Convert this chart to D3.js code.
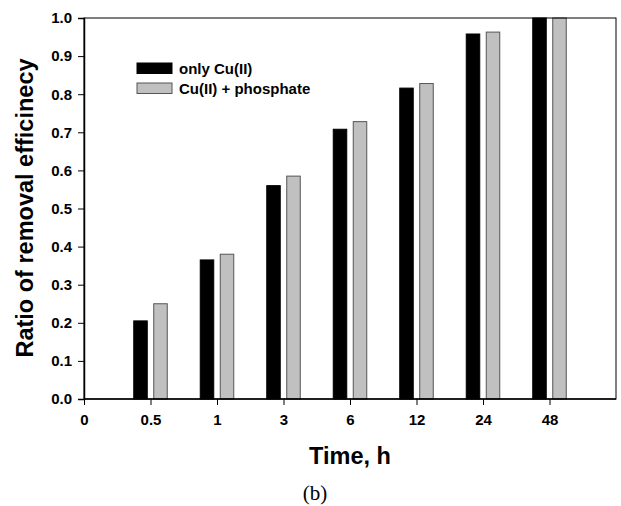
<!DOCTYPE html>
<html>
<head>
<meta charset="utf-8">
<script src="https://cdn.jsdelivr.net/npm/d3@7"></script>
<style>
  html, body { margin: 0; padding: 0; background: #fff; }
  svg { display: block; }
</style>
</head>
<body>
<svg id="chart" width="621" height="506"></svg>
<script>
// data
const times = ['0.5', '1', '3', '6', '12', '24', '48'];
const onlyCu = [0.205, 0.365, 0.560, 0.708, 0.816, 0.958, 1.0];
const cuPhosphate = [0.250, 0.380, 0.585, 0.728, 0.828, 0.963, 1.0];
const seriesNames = ['only Cu(II)', 'Cu(II) + phosphate'];
const xTickLabels = ['0', '0.5', '1', '3', '6', '12', '24', '48'];
const yTicks = [0, 0.1, 0.2, 0.3, 0.4, 0.5, 0.6, 0.7, 0.8, 0.9, 1.0];

const svg = d3.select('#chart');
const L = 84, R = 616, T = 18, B = 399;
const sans = 'Liberation Sans, Arial, sans-serif';
const fills = ['#000', '#c0c0c0'];
const strokes = ['#000', '#555'];

const x = d3.scaleLinear().domain([0, 8]).range([L, R]);
const y = d3.scaleLinear().domain([0, 1]).range([B, T]);
const inner = d3.scaleBand().domain(seriesNames).range([-16.75, 16.75]).paddingInner(0.325);

// bars (time i sits at tick i+1)
const series = [onlyCu, cuPhosphate];
series.forEach((vals, s) => {
  svg.append('g').selectAll('rect').data(vals).join('rect')
    .attr('x', (d, i) => x(i + 1) + inner(seriesNames[s]))
    .attr('y', d => y(d))
    .attr('width', inner.bandwidth())
    .attr('height', d => y(0) - y(d))
    .attr('fill', fills[s]).attr('stroke', strokes[s]).attr('stroke-width', 1);
});

// frame
svg.append('rect').attr('x', L).attr('y', T).attr('width', R - L).attr('height', B - T)
  .attr('fill', 'none').attr('stroke', '#000').attr('stroke-width', 1);

// y axis
const yAxis = d3.axisLeft(y).tickValues(yTicks).tickFormat(d3.format('.1f'))
  .tickSize(6).tickPadding(6);
const gy = svg.append('g').attr('transform', `translate(${L},0)`).call(yAxis);
gy.select('.domain').attr('stroke-width', 1.5);
gy.selectAll('text').attr('font-family', sans).attr('font-weight', 'bold')
  .attr('font-size', 15).attr('fill', '#000');

// x axis
const xAxis = d3.axisBottom(x).tickValues(d3.range(xTickLabels.length))
  .tickFormat(i => xTickLabels[i]).tickSize(6).tickPadding(9);
const gx = svg.append('g').attr('transform', `translate(0,${B})`).call(xAxis);
gx.select('.domain').remove();
gx.append('line').attr('x1', L).attr('x2', R).attr('stroke', '#000').attr('stroke-width', 1.5);
gx.selectAll('text').attr('font-family', sans).attr('font-weight', 'bold')
  .attr('font-size', 15).attr('fill', '#000');

// axis titles
svg.append('text').attr('transform', 'translate(33,208) rotate(-90)')
  .attr('text-anchor', 'middle').attr('font-family', sans).attr('font-weight', 'bold')
  .attr('font-size', 23.5).text('Ratio of removal efficinecy');
svg.append('text').attr('x', (L + R) / 2).attr('y', 464)
  .attr('text-anchor', 'middle').attr('font-family', sans).attr('font-weight', 'bold')
  .attr('font-size', 23.5).text('Time, h');
svg.append('text').attr('x', 315).attr('y', 500)
  .attr('text-anchor', 'middle').attr('font-family', 'Liberation Serif, DejaVu Serif, serif')
  .attr('font-size', 21).text('(b)');

// legend
const leg = svg.append('g').attr('transform', 'translate(137,63)');
seriesNames.forEach((name, s) => {
  leg.append('rect').attr('x', 0).attr('y', s * 20).attr('width', 35).attr('height', 10.5)
    .attr('fill', fills[s]).attr('stroke', strokes[s]).attr('stroke-width', 1);
  leg.append('text').attr('x', 42).attr('y', s * 20 + 11)
    .attr('font-family', sans).attr('font-weight', 'bold').attr('font-size', 15)
    .text(name);
});
</script>
</body>
</html>
